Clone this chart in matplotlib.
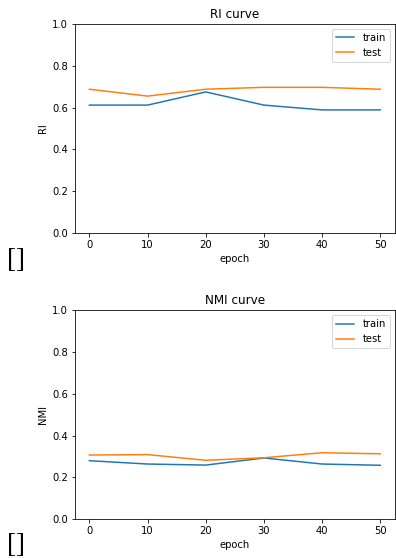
import matplotlib
matplotlib.use('Agg')
import matplotlib.pyplot as plt

# epochs and scores
epochs = [0, 10, 20, 30, 40, 50]
ri_train = [0.612, 0.612, 0.675, 0.612, 0.589, 0.589]
ri_test = [0.688, 0.655, 0.688, 0.697, 0.697, 0.688]
nmi_train = [0.280, 0.264, 0.259, 0.293, 0.264, 0.258]
nmi_test = [0.307, 0.309, 0.282, 0.294, 0.318, 0.313]

fig = plt.figure(figsize=(5.5, 7.75), dpi=72)

ax1 = fig.add_axes([0.189, 0.5824, 0.808, 0.3746])
ax1.plot(epochs, ri_train, label='train')
ax1.plot(epochs, ri_test, label='test')
ax1.set_ylim(0, 1)
ax1.set_title('RI curve')
ax1.set_xlabel('epoch')
ax1.set_ylabel('RI')
ax1.legend(loc='upper right', handlelength=1.8)

ax2 = fig.add_axes([0.189, 0.0694, 0.808, 0.375])
ax2.plot(epochs, nmi_train, label='train')
ax2.plot(epochs, nmi_test, label='test')
ax2.set_ylim(0, 1)
ax2.set_title('NMI curve')
ax2.set_xlabel('epoch')
ax2.set_ylabel('NMI')
ax2.legend(loc='upper right', handlelength=1.8)

# the printed "[]" outputs from the notebook
fig.text(0.018, 1 - 267 / 558, '[]', fontsize=27, family='Liberation Serif',
         va='baseline')
fig.text(0.018, 1 - 552 / 558, '[]', fontsize=27, family='Liberation Serif',
         va='baseline')

fig.savefig('out.png', dpi=72)
